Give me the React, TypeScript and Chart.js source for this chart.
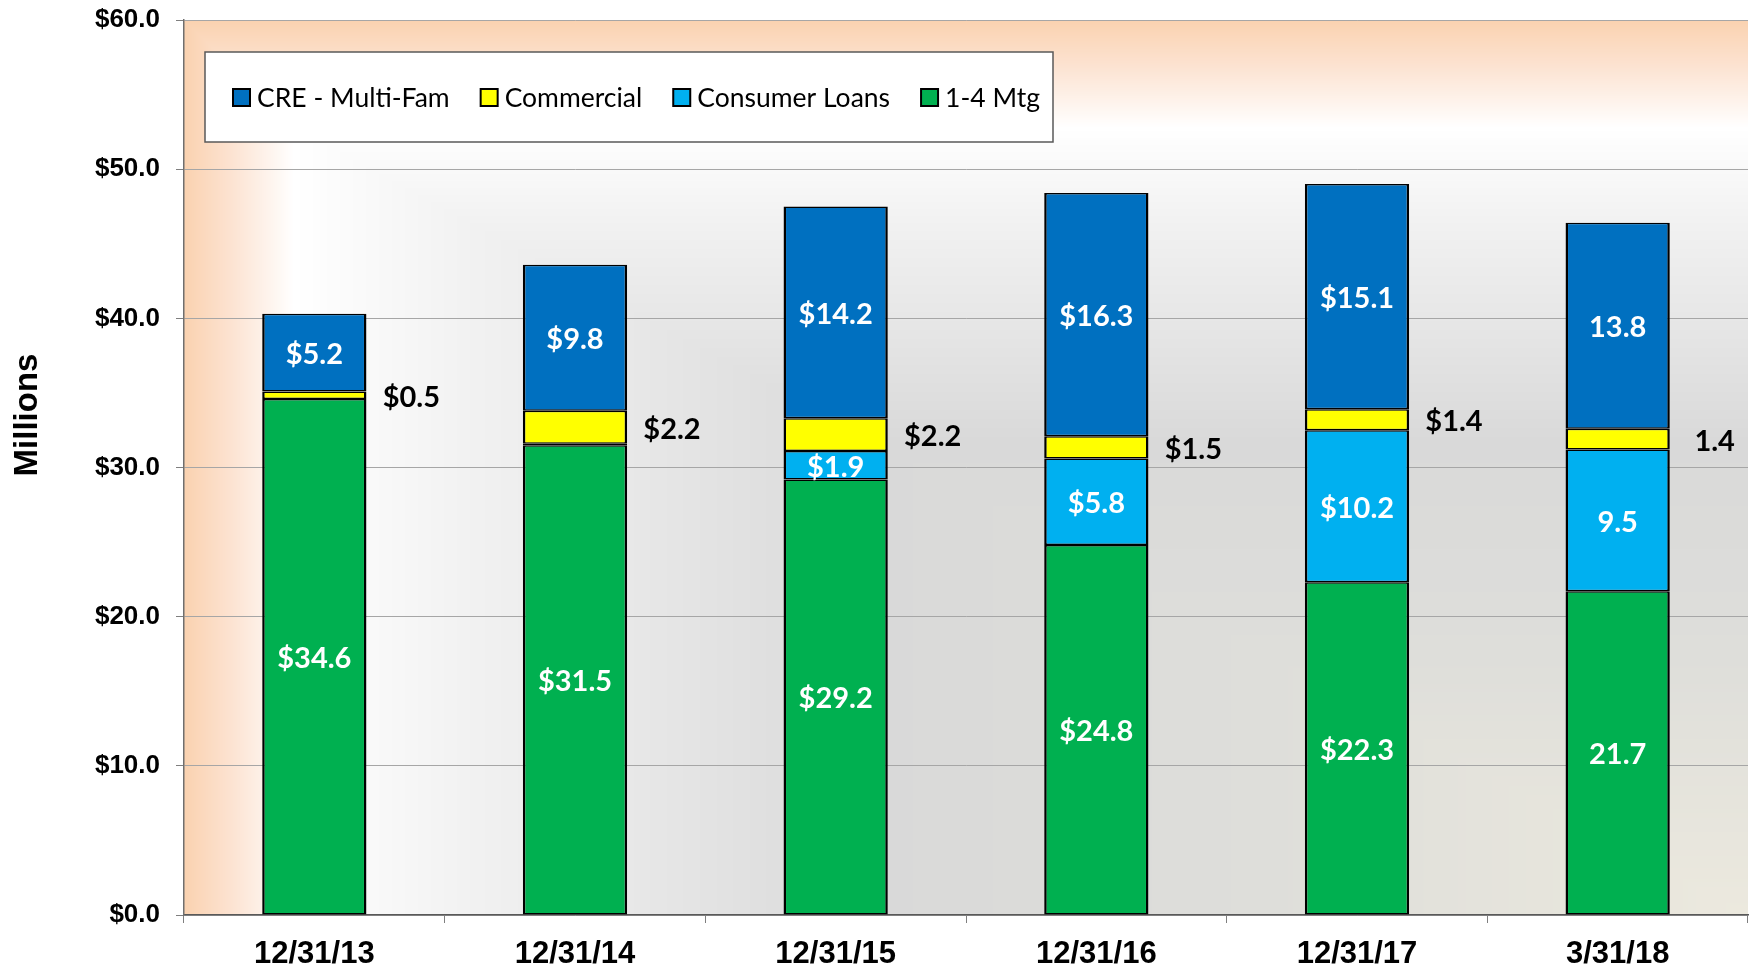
import React, { useEffect, useRef } from 'react';
import { Chart, registerables } from 'chart.js';

Chart.register(...registerables);

// ---------- DATA ----------
const categories = ['12/31/13', '12/31/14', '12/31/15', '12/31/16', '12/31/17', '3/31/18'];
const mtg14 = [34.6, 31.5, 29.2, 24.8, 22.3, 21.7];
const consumerLoans = [null, 0.1, 1.9, 5.8, 10.2, 9.5];
const commercial = [0.5, 2.2, 2.2, 1.5, 1.4, 1.4];
const creMultiFam = [5.2, 9.8, 14.2, 16.3, 15.1, 13.8];
const labelPrefix = ['$', '$', '$', '$', '$', ''];
const yTickValues = [0, 10, 20, 30, 40, 50, 60];
const yAxisTitle = 'Millions';

const seriesNames = ['1-4 Mtg', 'Consumer Loans', 'Commercial', 'CRE - Multi-Fam'];
const seriesColors = ['#00B050', '#00B0F0', '#FFFF00', '#0070C0'];
const legendOrder = [3, 2, 1, 0];

// ---------- STYLE ----------
const bgStops: [number, number[]][] = [
  [0.0, [250, 210, 176]],
  [0.035, [252, 226, 208]],
  [0.085, [255, 255, 255]],
  [0.2, [241, 241, 241]],
  [0.45, [217, 217, 217]],
  [0.7, [222, 222, 218]],
  [1.0, [236, 233, 222]],
];
const WHITE_T = 0.085;
const WHITE_X = 0.07;
const WHITE_Y = 0.12;

function warp(u: number, w: number): number {
  if (u < w) return (u / w) * WHITE_T;
  return WHITE_T + ((u - w) / (1 - w)) * (1 - WHITE_T);
}

function bgColor(t: number): number[] {
  for (let i = 1; i < bgStops.length; i++) {
    if (t <= bgStops[i][0]) {
      const [t0, c0] = bgStops[i - 1];
      const [t1, c1] = bgStops[i];
      const f = (t - t0) / (t1 - t0);
      return [0, 1, 2].map((k) => c0[k] + (c1[k] - c0[k]) * f);
    }
  }
  return bgStops[bgStops.length - 1][1];
}

const backgroundPlugin = {
  id: 'plotBackground',
  beforeDraw(chart: any) {
    const { ctx, chartArea: a } = chart;
    const w = Math.round(a.right - a.left);
    const h = Math.round(a.bottom - a.top);
    const off = document.createElement('canvas');
    off.width = w;
    off.height = h;
    const octx = off.getContext('2d')!;
    const img = octx.createImageData(w, h);
    for (let y = 0; y < h; y++) {
      const ty = warp(y / (h - 1), WHITE_Y);
      for (let x = 0; x < w; x++) {
        const t = Math.min(warp(x / (w - 1), WHITE_X), ty);
        const c = bgColor(t);
        const idx = (y * w + x) * 4;
        img.data[idx] = c[0];
        img.data[idx + 1] = c[1];
        img.data[idx + 2] = c[2];
        img.data[idx + 3] = 255;
      }
    }
    octx.putImageData(img, 0, 0);
    ctx.drawImage(off, a.left, a.top);
  },
};

const labelsPlugin = {
  id: 'valueLabels',
  afterDatasetsDraw(chart: any) {
    const { ctx } = chart;
    ctx.save();
    ctx.font = 'bold 29px Lato';
    ctx.textBaseline = 'middle';
    ctx.textAlign = 'center';
    chart.data.datasets.forEach((ds: any, di: number) => {
      const meta = chart.getDatasetMeta(di);
      meta.data.forEach((el: any, i: number) => {
        const v = ds.data[i];
        if (v == null || v < 0.3) return;
        const p = el.getProps(['x', 'y', 'base', 'width'], true);
        const cy = (p.y + p.base) / 2;
        const text = labelPrefix[i] + v.toFixed(1);
        if (di === 2) {
          ctx.fillStyle = '#000';
          ctx.fillText(text, p.x + 97, cy + 2);
        } else {
          ctx.fillStyle = '#fff';
          ctx.fillText(text, p.x, cy + 2);
        }
      });
    });
    ctx.restore();
  },
};

const overlayPlugin = {
  id: 'overlay',
  afterDraw(chart: any) {
    const { ctx, chartArea: a } = chart;
    ctx.save();
    // legend box
    const bx = a.left + 21, by = a.top + 32, bw = 848, bh = 90;
    ctx.fillStyle = '#fff';
    ctx.fillRect(bx, by, bw, bh);
    ctx.strokeStyle = '#595959';
    ctx.lineWidth = 1.5;
    ctx.strokeRect(bx, by, bw, bh);
    ctx.font = '26.5px Lato';
    ctx.textBaseline = 'middle';
    ctx.textAlign = 'left';
    let x = bx + 28;
    const cy = by + bh / 2;
    legendOrder.forEach((si) => {
      ctx.fillStyle = seriesColors[si];
      ctx.fillRect(x, cy - 8, 17, 17);
      ctx.strokeStyle = '#000';
      ctx.lineWidth = 2;
      ctx.strokeRect(x, cy - 8, 17, 17);
      ctx.fillStyle = '#000';
      const tx = x + 24;
      ctx.fillText(seriesNames[si], tx, cy + 1);
      x = tx + ctx.measureText(seriesNames[si]).width + 31;
    });
    // y axis title
    ctx.translate(28, 415);
    ctx.rotate(-Math.PI / 2);
    ctx.font = 'bold 33px "Liberation Sans"';
    ctx.textAlign = 'center';
    ctx.fillStyle = '#000';
    ctx.fillText(yAxisTitle, 0, 0);
    ctx.restore();
  },
};

export default function App() {
  const ref = useRef<HTMLCanvasElement>(null);
  useEffect(() => {
    const series = [mtg14, consumerLoans, commercial, creMultiFam];
    const chart = new Chart(ref.current!, {
      type: 'bar',
      data: {
        labels: categories,
        datasets: series.map((d, i) => ({
          label: seriesNames[i],
          data: d as any,
          backgroundColor: seriesColors[i],
          borderColor: '#000',
          borderWidth: { top: 1.5, bottom: 1.5, left: 2.5, right: 2.5 },
          borderSkipped: false,
          categoryPercentage: 0.8,
          barPercentage: 0.5,
        })),
      },
      options: {
        responsive: false,
        animation: false,
        layout: { padding: { left: 0, top: 20, right: 6, bottom: 0 } },
        plugins: { legend: { display: false }, tooltip: { enabled: false } },
        scales: {
          x: {
            stacked: true,
            grid: {
              display: true,
              drawOnChartArea: false,
              drawTicks: true,
              tickLength: 8,
              offset: true,
              tickColor: '#7f7f7f',
            },
            border: { display: true, color: '#595959', width: 1.5 },
            ticks: {
              color: '#000',
              font: { family: '"Liberation Sans"', weight: 'bold', size: 31 },
              padding: 13,
            },
            afterFit: (s: any) => {
              s.height = 53;
              s.paddingLeft = 0;
              s.paddingRight = 0;
            },
          },
          y: {
            stacked: true,
            min: 0,
            max: 60,
            afterBuildTicks: (s: any) => { s.ticks = yTickValues.map((v) => ({ value: v })); },
            grid: { color: '#A6A6A6', lineWidth: 1, tickLength: 8, tickColor: '#7f7f7f' },
            border: { display: true, color: '#6f6f6f', width: 1.5 },
            ticks: {
              color: '#000',
              font: { family: '"Liberation Sans"', weight: 'bold', size: 26 },
              padding: 16,
              callback: (v: any) => '$' + Number(v).toFixed(1),
            },
            afterFit: (s: any) => {
              s.width = 184;
              s.paddingTop = 0;
              s.paddingBottom = 0;
            },
          },
        },
      },
      plugins: [backgroundPlugin, labelsPlugin, overlayPlugin],
    });
    return () => chart.destroy();
  }, []);
  return (
    <div style={{ position: 'absolute', left: 0, top: 0, width: 1754, height: 968 }}>
      <canvas ref={ref} width={1754} height={968} style={{ display: 'block' }} />
    </div>
  );
}
